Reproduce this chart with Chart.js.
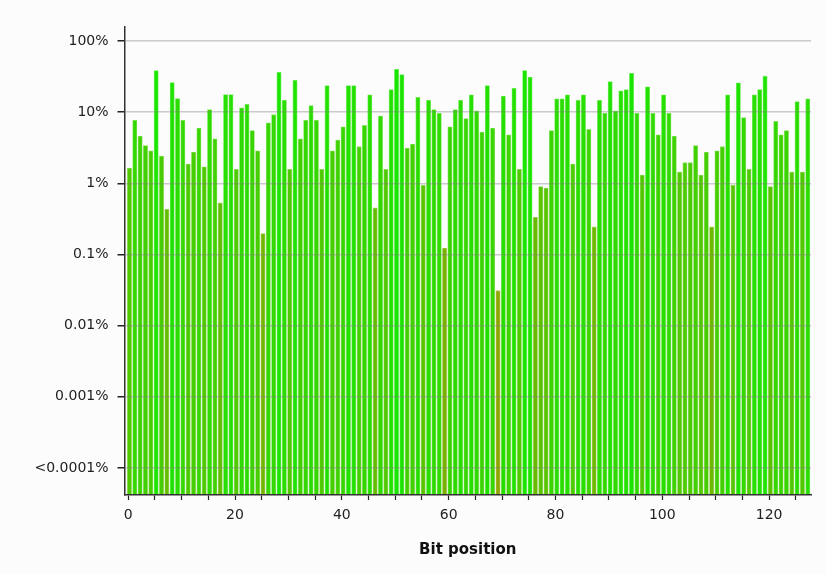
<!DOCTYPE html>
<html>

<head>
    <meta charset="UTF-8">
    <title>Bit position rates</title>
    <script src="https://cdn.jsdelivr.net/npm/chart.js@4.4.0/dist/chart.umd.min.js"></script>
    <style>
        body {
            margin: 0;
            background: #fcfcfc;
        }

        #wrap {
            width: 826px;
            height: 574px;
            position: relative;
        }
    </style>
</head>

<body>
    <div id="wrap"><canvas id="myChart"></canvas></div>

    <script>
        // bit positions 0..127
        const bitPositions = [
            0, 1, 2, 3, 4, 5, 6, 7, 8, 9, 10, 11, 12, 13, 14, 15,
            16, 17, 18, 19, 20, 21, 22, 23, 24, 25, 26, 27, 28, 29, 30, 31,
            32, 33, 34, 35, 36, 37, 38, 39, 40, 41, 42, 43, 44, 45, 46, 47,
            48, 49, 50, 51, 52, 53, 54, 55, 56, 57, 58, 59, 60, 61, 62, 63,
            64, 65, 66, 67, 68, 69, 70, 71, 72, 73, 74, 75, 76, 77, 78, 79,
            80, 81, 82, 83, 84, 85, 86, 87, 88, 89, 90, 91, 92, 93, 94, 95,
            96, 97, 98, 99, 100, 101, 102, 103, 104, 105, 106, 107, 108, 109, 110, 111,
            112, 113, 114, 115, 116, 117, 118, 119, 120, 121, 122, 123, 124, 125, 126, 127
        ];

        // rate per bit, in percent
        const rates = [
            1.64, 7.7, 4.6, 3.4, 2.87, 38.4, 2.42, 0.432, 26, 15.5, 7.7, 1.87, 2.75, 5.97, 1.71, 10.9,
            4.23, 0.53, 17.7, 17.7, 1.57, 11.5, 12.9, 5.5, 2.87, 0.197, 7.1, 9.2, 36.4, 14.7, 1.57, 28.1,
            4.23, 7.7, 12.4, 7.7, 1.57, 23.6, 2.87, 4.05, 6.2, 23.6, 23.6, 3.27, 6.5, 17.5, 0.451, 8.8,
            1.57, 20.8, 40, 33.7, 3.13, 3.56, 16.1, 0.94, 14.7, 10.9, 9.6, 0.123, 6.2, 10.9, 14.7, 8.1,
            17.5, 10.4, 5.25, 23.6, 5.97, 0.031, 16.8, 4.81, 21.7, 1.57, 38.4, 31, 0.334, 0.898, 0.86, 5.5,
            15.4, 15.4, 17.5, 1.87, 14.7, 17.5, 5.71, 0.244, 14.7, 9.6, 26.9, 10.4, 19.9, 20.8, 35.2, 9.6,
            1.31, 22.7, 9.6, 4.81, 17.5, 9.6, 4.6, 1.44, 1.95, 1.95, 3.4, 1.31, 2.75, 0.244, 2.87, 3.27,
            17.5, 0.94, 25.8, 8.4, 1.57, 17.5, 20.8, 32, 0.898, 7.4, 4.81, 5.5, 1.44, 14.1, 1.44, 15.4
        ];

        const xTickLabels = [0, 20, 40, 60, 80, 100, 120];
        const yTickValues = [0.0001, 0.001, 0.01, 0.1, 1, 10, 100];
        const yTickLabels = ['<0.0001%', '0.001%', '0.01%', '0.1%', '1%', '10%', '100%'];

        // low rates get an olive tint, high rates a bright green
        function barColor(v, pale) {
            const t = Math.min(1, Math.max(0, (Math.log10(v) + 1.5) / 3.1));
            let r = 145 - 120 * t;
            let g = 165 + 65 * t;
            let b = 0;
            if (pale) {
                r = r + (255 - r) * 0.4;
                g = g + (255 - g) * 0.4;
                b = b + (255 - b) * 0.4;
            }
            return `rgb(${Math.round(r)}, ${Math.round(g)}, ${Math.round(b)})`;
        }

        const minorTicks = [];
        for (let v = 0; v <= 125; v += 5) minorTicks.push(v);

        const font = { family: 'DejaVu Sans', size: 14 };

        const ctx = document.getElementById('myChart').getContext('2d');
        const chart = new Chart(ctx, {
            type: 'bar',
            data: {
                datasets: [{
                    label: 'Rate',
                    data: bitPositions.map((b, i) => ({ x: b, y: rates[i] })),
                    xAxisID: 'xb',
                    backgroundColor: rates.map(v => barColor(v, false)),
                    borderColor: rates.map(v => barColor(v, true)),
                    borderWidth: 0.8,
                    barThickness: 4.3
                }]
            },
            options: {
                responsive: true,
                maintainAspectRatio: false,
                animation: false,
                layout: {
                    padding: { left: 0, right: 15, top: 27, bottom: 0 }
                },
                plugins: {
                    legend: { display: false },
                    tooltip: { enabled: false }
                },
                scales: {
                    xb: {
                        type: 'linear',
                        display: false,
                        min: -0.93,
                        max: 127.6,
                        offset: false,
                        grid: { offset: false }
                    },
                    x: {
                        type: 'linear',
                        position: 'bottom',
                        min: -0.69,
                        max: 127.84,
                        offset: false,
                        afterBuildTicks: s => { s.ticks = minorTicks.map(v => ({ value: v })); },
                        afterFit: s => { s.height = 79; },
                        grid: {
                            offset: false,
                            drawOnChartArea: false,
                            tickLength: 5,
                            tickColor: '#222',
                            tickWidth: 1.2
                        },
                        border: { color: '#333', width: 1.5, z: 2 },
                        ticks: {
                            autoSkip: false,
                            maxRotation: 0,
                            padding: 7,
                            color: '#222',
                            font: font,
                            callback: v => xTickLabels.includes(v) ? String(v) : ''
                        },
                        title: {
                            display: true,
                            text: 'Bit position',
                            color: '#111',
                            font: { family: 'DejaVu Sans', size: 15, weight: 'bold' },
                            padding: { top: 0, bottom: 15 }
                        }
                    },
                    y: {
                        type: 'logarithmic',
                        min: 4.18e-5,
                        max: 157,
                        afterBuildTicks: s => { s.ticks = yTickValues.map(v => ({ value: v })); },
                        afterFit: s => { s.width = 124.5; },
                        grid: {
                            z: 1,
                            color: 'rgba(130, 130, 130, 0.4)',
                            lineWidth: 1.5,
                            tickColor: '#222',
                            tickLength: 7
                        },
                        border: { color: '#333', width: 1.5, z: 2 },
                        ticks: {
                            padding: 9,
                            color: '#222',
                            font: font,
                            callback: (v, i) => yTickLabels[i]
                        }
                    }
                }
            }
        });
    </script>
</body>

</html>
